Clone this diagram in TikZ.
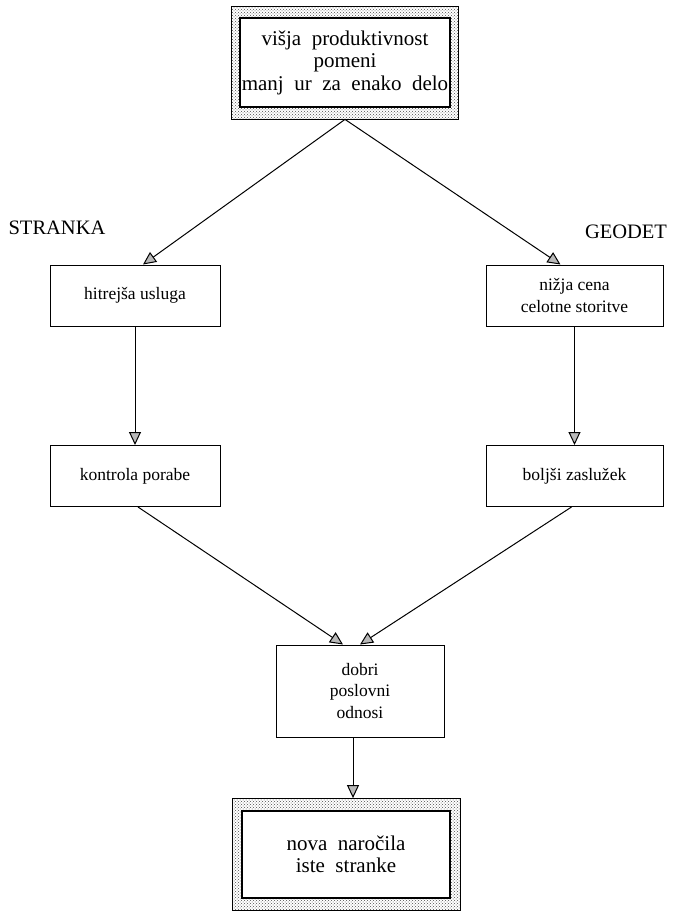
\documentclass[tikz,border=0pt]{standalone}
\usepackage{fontspec}
\setmainfont{Liberation Serif}
\usetikzlibrary{arrows.meta,patterns}

\newcommand{\widesp}{\spaceskip=0.5em plus 0.1em\relax}

\tikzset{
  box/.style={draw, line width=1pt, fill=white, minimum width=170pt, minimum height=61pt,
    align=center, inner sep=0pt, font={\fontsize{17.5}{21.5}\selectfont}},
  framed/.style={draw, line width=0.8pt, pattern=crosshatch dots, pattern color=black!70,
    minimum width=227pt, minimum height=113pt, inner sep=0pt},
  framein/.style={draw, line width=1.4pt, fill=white, minimum width=210pt, align=center,
    inner sep=0pt, font={\fontsize{21}{22.5}\selectfont}},
  side/.style={font={\fontsize{20.5}{20.5}\selectfont}},
  arr/.style={line width=1pt, -{Triangle[length=13pt,width=12pt,fill=gray!55]}},
}

\begin{document}
\begin{tikzpicture}[x=1pt,y=-1pt]
	\useasboundingbox (0,0) rectangle (694,911);

	% top and bottom framed boxes
	\node[framed] (topfr) at (345,62.5) {};
	\node[framein, minimum height=89pt] (top) at (topfr) {\widesp višja produktivnost\\ \widesp pomeni\\ \widesp manj ur za enako delo};
	\node[framed, minimum width=228pt, minimum height=112pt] (novafr) at (346,854.5) {};
	\node[framein, minimum width=208pt, minimum height=87pt] (nova) at (novafr) {\widesp nova naročila\\ \widesp iste stranke};

	\node[side] (stranka) at (57,228) {STRANKA};
	\node[side] (geodet) at (626,232) {GEODET};

	\node[box] (hit) at (135,295.5) {hitrejša usluga};
	\node[box, minimum width=177pt] (niz) at (574.5,295.5) {nižja cena\\ celotne storitve};
	\node[box] (kon) at (135,476) {kontrola porabe};
	\node[box, minimum width=177pt] (bol) at (574.5,476) {boljši zaslužek};
	\node[box, minimum width=168pt, minimum height=92pt] (dob) at (360,691) {dobri\\ poslovni\\ odnosi};

	\draw[arr] (topfr.south) -- ([xshift=8pt]hit.north);
	\draw[arr] (topfr.south) -- ([xshift=-14pt]niz.north);
	\draw[arr] (hit) -- (kon);
	\draw[arr] (niz) -- (bol);
	\draw[arr] ([xshift=3pt]kon.south) -- ([xshift=-17pt]dob.north);
	\draw[arr] ([xshift=-3pt]bol.south) -- (dob.north);
	\draw[arr] ([xshift=-7pt]dob.south) -- ([xshift=-7pt]dob.south |- novafr.north);
\end{tikzpicture}
\end{document}
